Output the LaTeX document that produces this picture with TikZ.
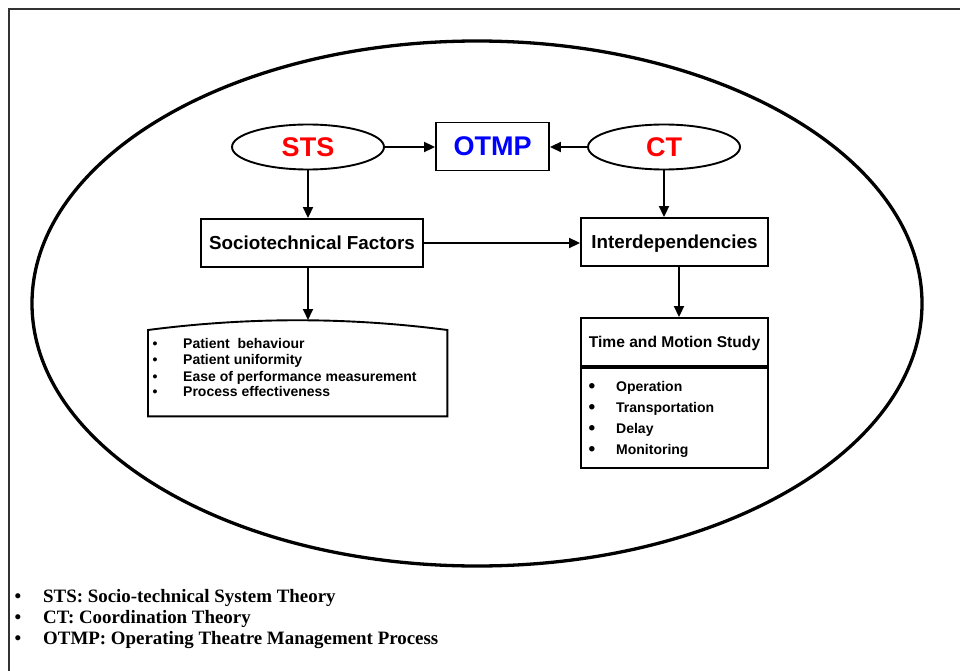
\documentclass[tikz,border=0pt]{standalone}
\usepackage{fontspec}
\setmainfont{Liberation Sans}
\newfontfamily\legendfont{Liberation Serif}
\usetikzlibrary{shapes.geometric,arrows.meta}

\begin{document}
\begin{tikzpicture}[x=1pt,y=-1pt,
  every node/.style={inner sep=0pt},
  box/.style={draw, line width=1.9pt, text depth=0pt, font=\bfseries\fontsize{18.8}{22}\selectfont},
  theory/.style={draw, ellipse, line width=1.9pt, minimum width=152pt,
    minimum height=45pt, text=red, font=\bfseries\fontsize{27}{30}\selectfont},
  link/.style={line width=1.9pt, -{Triangle[length=11pt,width=10pt]}},
  item/.style={anchor=base west, font=\bfseries\fontsize{14}{16}\selectfont},
  dot/.style={anchor=base, font=\bfseries\fontsize{14}{16}\selectfont},
  bigdot/.style={anchor=base, font=\bfseries\fontsize{19}{16}\selectfont},
  legend/.style={anchor=base west, font=\legendfont\bfseries\fontsize{18.9}{21}\selectfont},
  legdot/.style={anchor=base, font=\legendfont\bfseries\fontsize{18.9}{21}\selectfont}
]
\useasboundingbox (0,0) rectangle (960,671);

% page frame (top and left edges)
\draw[line width=1.6pt, black!80] (9,671) -- (9,9) -- (960,9);

% enclosing ellipse
\draw[line width=3.3pt] (477,303.5) ellipse [x radius=445, y radius=262.5];

% theories and the management process
\node[theory] (sts) at (308,147) {STS};
\node[theory] (ct)  at (664,147) {CT};
\node[box, minimum width=113pt, minimum height=48pt, text=blue,
      font=\bfseries\fontsize{27}{30}\selectfont] (otmp) at (492.5,146.5) {OTMP};

% factor boxes
\node[box, minimum width=222pt, minimum height=48pt] (sf) at (312,243) {Sociotechnical Factors};
\node[box, minimum width=187pt, minimum height=48pt] (id) at (674.5,242) {Interdependencies};

% time and motion study box
\node[box, minimum width=187pt, minimum height=48pt,
      font=\bfseries\fontsize{15.6}{18}\selectfont] (tms) at (674.5,342) {Time and Motion Study};
\node[draw, line width=1.9pt, minimum width=187pt, minimum height=100pt,
      anchor=north] (tmsbody) at (tms.south) {};

% sociotechnical factor list with curved top
\node[minimum width=299pt, minimum height=96pt, anchor=north west] (facts) at (148,320) {};
\draw[line width=1.9pt]
  ([yshift=-10pt]facts.north west) .. controls ([xshift=100pt,yshift=3pt]facts.north west)
  and ([xshift=-100pt,yshift=3pt]facts.north east) .. ([yshift=-10pt]facts.north east)
  -- (facts.south east) -- (facts.south west) -- cycle;

\node[dot]  (fb1) at (155,348) {\textbullet};
\node[item] (f1)  at (183,348) {Patient\ \ behaviour};
\node[dot]  (fb2) at (155,364) {\textbullet};
\node[item] (f2)  at (183,364) {Patient uniformity};
\node[dot]  (fb3) at (155,381) {\textbullet};
\node[item] (f3)  at (183,381) {Ease of performance measurement};
\node[dot]  (fb4) at (155,396) {\textbullet};
\node[item] (f4)  at (183,396) {Process effectiveness};

\node[bigdot] (tb1) at (592,392) {\textbullet};
\node[item]   (t1)  at (616,391) {Operation};
\node[bigdot] (tb2) at (592,413) {\textbullet};
\node[item]   (t2)  at (616,412) {Transportation};
\node[bigdot] (tb3) at (592,434) {\textbullet};
\node[item]   (t3)  at (616,433) {Delay};
\node[bigdot] (tb4) at (592,455) {\textbullet};
\node[item]   (t4)  at (616,454) {Monitoring};

% connectors
\draw[link] (sts.east) -- (sts.east -| otmp.west);
\draw[link] (ct.west) -- (ct.west -| otmp.east);
\draw[link] (sts.south) -- (sts.south |- sf.north);
\draw[link] (ct.south) -- (ct.south |- id.north);
\draw[link] (sf.east) -- (sf.east -| id.west);
\draw[link] (sf.south -| sts.south) -- (facts.north -| sts.south);
\draw[link] ([xshift=4.5pt]id.south) -- ([xshift=4.5pt]tms.north);

% abbreviations
\node[legdot] (lb1) at (18,602) {\textbullet};
\node[legend] (l1)  at (43,602) {STS: Socio-technical System Theory};
\node[legdot] (lb2) at (18,623) {\textbullet};
\node[legend] (l2)  at (43,623) {CT: Coordination Theory};
\node[legdot] (lb3) at (18,644) {\textbullet};
\node[legend] (l3)  at (43,644) {OTMP: Operating Theatre Management Process};
\end{tikzpicture}
\end{document}
